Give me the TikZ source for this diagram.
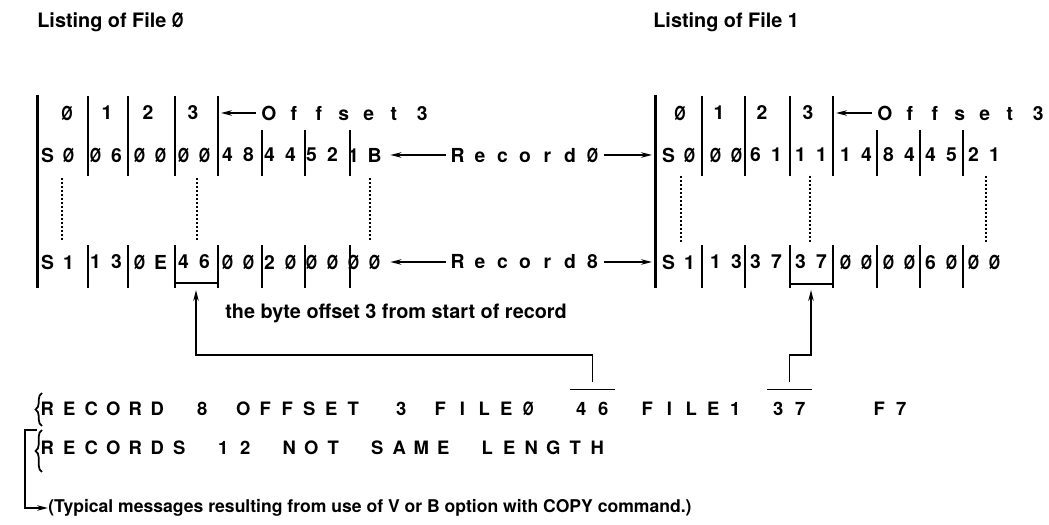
\documentclass[tikz,border=0pt]{standalone}
\usepackage{fontspec}
\setmainfont{TeX Gyre Heros}
\usepackage{tikz}
\usetikzlibrary{arrows.meta,decorations.pathreplacing}
\makeatletter
\newcommand\spacedtext[2]{\@tfor\ch:=#2\do{\makebox[#1]{\ch}}}
\makeatother
\newcommand\pairtext[2]{\makebox[4.2mm]{#1}\makebox[4.2mm]{#2}}
\newcommand\zs{\scalebox{0.75}[1]{Ø}}

\begin{document}
\begin{tikzpicture}[x=0.2mm, y=-0.2mm, font=\bfseries,
    bar/.style={line width=0.6mm},
    sep/.style={line width=0.4mm},
    dots/.style={line width=0.35mm, dash pattern=on 0.45mm off 0.35mm},
    arr/.style={line width=0.3mm, -{Stealth[length=2.2mm,width=1.1mm]}},
    ovl/.style={line width=0.35mm},
    cell/.style={inner sep=0pt, font=\fontsize{11}{13}\selectfont\bfseries},
    lbl/.style={inner sep=0pt, anchor=west, font=\fontsize{11.3}{13}\selectfont\bfseries},
    msg/.style={inner sep=0pt, anchor=west, font=\fontsize{10.5}{12}\selectfont\bfseries},
    brc/.style={decorate, decoration={brace, amplitude=1.3mm}, line width=0.35mm}]
  \useasboundingbox (0,0) rectangle (1049,525);

  \node[lbl] (titA) at (37,22)  {Listing of File \zs};
  \node[lbl] (titB) at (653,22) {Listing of File 1};

  % file 0
  \draw[bar] (37,95) -- (37,288);
  \foreach \x in {88,128,175,218} \draw[sep] (\x,96) -- (\x,176);
  \foreach \x in {262,305,350} \draw[sep] (\x,130) -- (\x,176);
  \foreach \x in {88,128,175,218,262,305,350} \draw[sep] (\x,245) -- (\x,288);
  \foreach \x/\t [count=\i] in {67/\zs,107/1,148/2,193/3}
    \node[cell] (hA\i) at (\x,113) {\t};
  \foreach \x/\a/\b [count=\i] in {58/S/\zs,106/\zs/6,150/\zs/\zs,194/\zs/\zs,238/4/8,280/4/4,322/5/2,364/1/B}
    \node[cell] (A0-\i) at (\x,155) {\pairtext{\a}{\b}};
  \foreach \x/\a/\b [count=\i] in {58/S/1,106/1/3,150/\zs/E,194/4/6,238/\zs/\zs,280/2/\zs,322/\zs/\zs,364/\zs/\zs}
    \node[cell] (A8-\i) at (\x,262) {\pairtext{\a}{\b}};
  \foreach \x in {62,197,370} \draw[dots] (\x,178) -- (\x,242);
  \draw[ovl] (175,283) -- (218,283);

  % file 1
  \draw[bar] (655,95) -- (655,288);
  \foreach \x in {702,745,790,833} \draw[sep] (\x,96) -- (\x,176);
  \foreach \x in {877,920,963} \draw[sep] (\x,130) -- (\x,176);
  \foreach \x in {702,745,790,833,877,920,963} \draw[sep] (\x,245) -- (\x,288);
  \foreach \x/\t [count=\i] in {680/\zs,719/1,762/2,808/3}
    \node[cell] (hB\i) at (\x,113) {\t};
  \foreach \x/\a/\b [count=\i] in {679/S/\zs,726/\zs/\zs,766/6/1,811/1/1,856/1/4,899/8/4,941/4/5,984/2/1}
    \node[cell] (B0-\i) at (\x,155) {\pairtext{\a}{\b}};
  \foreach \x/\a/\b [count=\i] in {679/S/1,726/1/3,766/3/7,811/3/7,856/\zs/\zs,899/\zs/\zs,941/6/\zs,984/\zs/\zs}
    \node[cell] (B8-\i) at (\x,262) {\pairtext{\a}{\b}};
  \foreach \x in {681,810,986} \draw[dots] (\x,176) -- (\x,242);
  \draw[ovl] (790,284) -- (833,284);

  % offsets and records
  \node[cell, anchor=west] (offA) at (256,113) {\spacedtext{5mm}{Offset}\hspace{0.7mm}\makebox[5mm]{3}};
  \node[cell, anchor=west] (offB) at (872,113) {\spacedtext{5mm}{Offset}\hspace{0.7mm}\makebox[5mm]{3}};
  \coordinate (sepA) at (221,113);
  \coordinate (sepB) at (836,113);
  \draw[arr] (offA.west) -- (sepA);
  \draw[arr] (offB.west) -- (sepB);

  \node[cell] (recA) at (525,155) {\spacedtext{4.5mm}{Record\zs}};
  \node[cell] (recB) at (525,262) {\spacedtext{4.5mm}{Record8}};
  \coordinate (barB0) at (652,155);
  \coordinate (barB8) at (652,262);
  \draw[arr, shorten >=1mm] (recA.west) -- (A0-8.east);
  \draw[arr] (recA.east) -- (barB0);
  \draw[arr, shorten >=1mm] (recB.west) -- (A8-8.east);
  \draw[arr] (recB.east) -- (barB8);

  \node[lbl] (note) at (225,313) {the byte offset 3 from start of record};

  % messages
  \node[msg] (m1) at (36,409)  {\spacedtext{4.4mm}{RECORD}};
  \node[msg] (m2) at (191,409) {\spacedtext{4.4mm}{8}};
  \node[msg] (m3) at (232,409) {\spacedtext{4.4mm}{OFFSET}};
  \node[msg] (m4) at (390,409) {\spacedtext{4.4mm}{3}};
  \node[msg] (m5) at (429,409) {\spacedtext{4.4mm}{FILE\zs}};
  \node[msg] (v0) at (570,409) {\spacedtext{4.4mm}{46}};
  \node[msg] (m6) at (636,409) {\spacedtext{4.4mm}{FILE1}};
  \node[msg] (v1) at (767,409) {\spacedtext{4.4mm}{37}};
  \node[msg] (m7) at (868,409) {\spacedtext{4.4mm}{F7}};
  \node[msg] (msgB) at (36,448) {\spacedtext{4.4mm}{RECORDS~12~NOT~SAME~LENGTH}};

  \draw[ovl] ([yshift=2.5mm]v0.north west) -- ([yshift=2.5mm]v0.north east);
  \draw[ovl] ([yshift=2.5mm]v1.north west) -- ([yshift=2.5mm]v1.north east);
  \coordinate (brkA) at (196,290);
  \coordinate (brkB) at (811,290);
  \draw[arr] ([yshift=4mm]v0.north) -- ++(0,-27) -| (brkA);
  \draw[arr] ([yshift=4mm]v1.north) -- ++(0,-27) -| (brkB);

  \draw[brc] (42,426) -- (42,393);
  \draw[brc] (42,472) -- (42,430);
  \coordinate (brJ) at (37,430);
  \node[lbl, font=\fontsize{10}{12}\selectfont\bfseries] (typ) at (48,508)
    {(Typical messages resulting from use of V or B option with COPY command.)};
  \draw[arr] (brJ) -- ++(-12,0) |- (typ.west);
\end{tikzpicture}
\end{document}
